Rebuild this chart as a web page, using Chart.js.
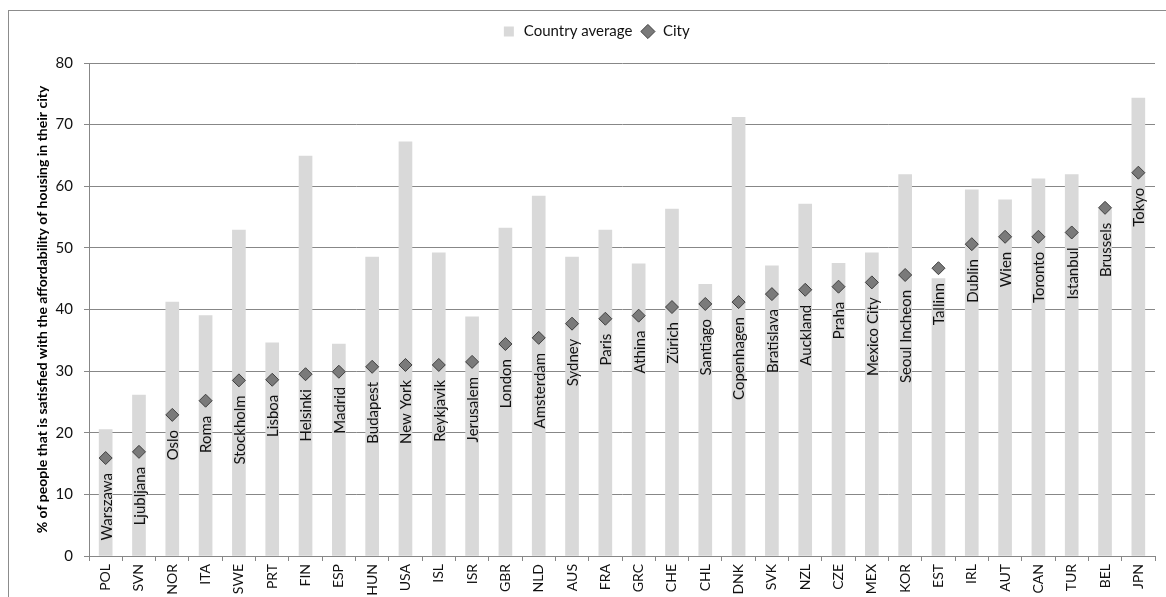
<!DOCTYPE html>
<html><head><meta charset="utf-8">
<script src="https://cdn.jsdelivr.net/npm/chart.js@4"></script>
<style>
html,body{margin:0;padding:0;background:#fff;overflow:hidden}
#wrap{position:relative;width:1166px;height:597px;overflow:hidden}
#frame{position:absolute;left:8px;top:10px;width:1200px;height:700px;border:1px solid #8c8c8c;box-sizing:border-box}
canvas{position:absolute;left:0;top:0}
</style></head>
<body><div id="wrap"><div id="frame"></div><canvas id="c" width="1166" height="597"></canvas></div>
<script>
const countries = ["POL","SVN","NOR","ITA","SWE","PRT","FIN","ESP","HUN","USA","ISL","ISR","GBR","NLD","AUS","FRA","GRC","CHE","CHL","DNK","SVK","NZL","CZE","MEX","KOR","EST","IRL","AUT","CAN","TUR","BEL","JPN"];
const cities = ["Warszawa","Ljubljana","Oslo","Roma","Stockholm","Lisboa","Helsinki","Madrid","Budapest","New York","Reykjavik","Jerusalem","London","Amsterdam","Sydney","Paris","Athina","Zürich","Santiago","Copenhagen","Bratislava","Auckland","Praha","Mexico City","Seoul Incheon","Tallinn","Dublin","Wien","Toronto","Istanbul","Brussels","Tokyo"];
const countryAverage = [20.5,26.1,41.2,39.0,52.9,34.6,64.9,34.4,48.5,67.2,49.2,38.8,53.2,58.4,48.5,52.9,47.4,56.3,44.1,71.2,47.1,57.1,47.5,49.2,61.9,45.0,59.4,57.8,61.2,61.9,56.2,74.3];
const cityValues = [15.9,16.9,22.9,25.2,28.5,28.6,29.5,29.9,30.7,31.0,31.0,31.5,34.4,35.4,37.7,38.5,39.0,40.4,40.9,41.2,42.5,43.2,43.7,44.4,45.6,46.7,50.6,51.8,51.8,52.5,56.5,62.2];
const yMin = 0, yMax = 80, yStep = 10;
const yTitle = "% of people that is satisfied with the affordability of housing in their city";

const FONT = "Lato, 'Open Sans', sans-serif";
const GRID = "#878787";

const cityLabels = {
  id: 'cityLabels',
  afterDatasetsDraw(chart) {
    const ctx = chart.ctx, xs = chart.scales.x, ys = chart.scales.y;
    ctx.save();
    ctx.font = "15px " + FONT;
    ctx.fillStyle = "#111";
    ctx.textAlign = "right";
    ctx.textBaseline = "middle";
    cities.forEach((name, i) => {
      const x = xs.getPixelForValue(i);
      const y = ys.getPixelForValue(cityValues[i]);
      ctx.save();
      ctx.translate(x + 1, y + 15);
      ctx.rotate(-Math.PI / 2);
      ctx.fillText(name, 0, 0);
      ctx.restore();
    });
    ctx.restore();
  }
};

const legendTweak = {
  id: 'legendTweak',
  beforeInit(chart) {
    const fit = chart.legend.fit;
    chart.legend.fit = function () { fit.call(this); this.height = 47; };
  },
  afterLayout(chart) {
    chart.legend.left += 36;
  }
};

new Chart(document.getElementById('c'), {
  type: 'bar',
  data: {
    labels: countries,
    datasets: [
      { label: 'Country average', data: countryAverage, backgroundColor: '#d9d9d9', borderWidth: 0,
        barThickness: 13, pointStyle: 'rect', order: 2 },
      { type: 'line', label: 'City', data: cityValues, showLine: false, pointStyle: 'rectRot',
        pointRadius: 6.5, pointHoverRadius: 6.5, backgroundColor: '#7a7a7a', borderColor: '#3f3f3f',
        pointBorderWidth: 1, borderWidth: 1, order: 1 }
    ]
  },
  options: {
    responsive: false,
    animation: false,
    events: [],
    layout: { padding: { left: 0, right: 11, top: 16, bottom: 0 } },
    plugins: {
      legend: {
        position: 'top',
        labels: { usePointStyle: true, boxHeight: 10, padding: 8, color: '#111',
          font: { family: FONT, size: 15 },
          sort: (a, b) => a.datasetIndex - b.datasetIndex }
      },
      tooltip: { enabled: false }
    },
    scales: {
      x: {
        grid: { drawOnChartArea: false, offset: true, tickLength: 5, color: GRID },
        border: { color: GRID },
        ticks: { minRotation: 90, maxRotation: 90, padding: 3, color: '#111',
          font: { family: FONT, size: 14 } },
        afterFit(s) { s.height = 41; }
      },
      y: {
        min: yMin, max: yMax,
        grid: { color: GRID, tickLength: 5 },
        border: { color: GRID },
        ticks: { stepSize: yStep, padding: 11, color: '#111', font: { family: FONT, size: 15 } },
        title: { display: true, text: yTitle, color: '#000', padding: { top: 34, bottom: 0 },
          font: { family: FONT, size: 14, weight: 'bold' } },
        afterFit(s) { s.width = 89; }
      }
    }
  },
  plugins: [cityLabels, legendTweak]
});
</script>
</body></html>
